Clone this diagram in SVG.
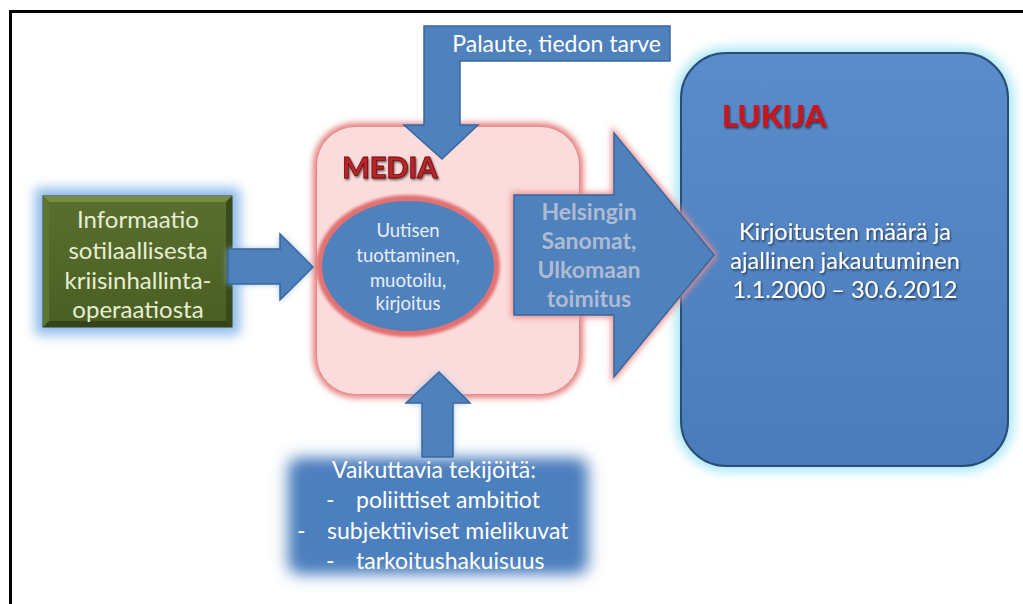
<svg xmlns="http://www.w3.org/2000/svg" width="1023" height="604" viewBox="0 0 1023 604">
<style>
.t{font-family:Lato,"Open Sans","Liberation Sans",sans-serif;text-anchor:middle}
.w{fill:#ffffff}
.arrow{fill:#4f81bd;stroke:#3a679c;stroke-width:1.5}
</style>
<defs>
<filter id="blur6" x="-30%" y="-30%" width="160%" height="160%"><feGaussianBlur stdDeviation="6"/></filter>
<filter id="blur3" x="-30%" y="-30%" width="160%" height="160%"><feGaussianBlur stdDeviation="3"/></filter>
<filter id="blur2" x="-30%" y="-30%" width="160%" height="160%"><feGaussianBlur stdDeviation="1.5"/></filter>
<filter id="soft" x="-20%" y="-30%" width="140%" height="160%"><feGaussianBlur stdDeviation="8"/></filter>
<filter id="shadow" x="-10%" y="-30%" width="120%" height="160%"><feDropShadow dx="1" dy="1.5" stdDeviation="1" flood-color="#000" flood-opacity="0.6"/></filter>
<linearGradient id="lukG" x1="0" y1="0" x2="0" y2="1"><stop offset="0" stop-color="#5a8ccb"/><stop offset="1" stop-color="#4a7cbc"/></linearGradient>
<linearGradient id="greenG" x1="0" y1="0" x2="0" y2="1"><stop offset="0" stop-color="#5a6f2e"/><stop offset="1" stop-color="#4a5e24"/></linearGradient>
</defs>

<!-- frame -->
<path d="M10.5 604 V11.5 H1023" fill="none" stroke="#000" stroke-width="3"/>

<!-- LUKIJA -->
<g id="lukija">
<rect x="676" y="48" width="337" height="423" rx="50" fill="#9fe4f4" filter="url(#blur6)"/>
<rect x="681" y="53" width="327" height="413" rx="45" fill="url(#lukG)" stroke="#2b4c77" stroke-width="2"/>
<text x="722" y="127" font-family="Lato,'Liberation Sans',sans-serif" font-weight="900" font-size="31" fill="#c8161d" filter="url(#shadow)">LUKIJA</text>
<g class="t w" font-size="23.5" filter="url(#shadow)">
<text x="845" y="240">Kirjoitusten määrä ja</text>
<text x="845" y="269">ajallinen jakautuminen</text>
<text x="845" y="298">1.1.2000 – 30.6.2012</text>
</g>
</g>

<!-- MEDIA -->
<g id="media">
<rect x="313" y="123" width="270" height="275" rx="42" fill="#e47a7a" filter="url(#blur3)"/>
<rect x="317" y="127" width="262" height="267" rx="38" fill="#fbdcdc"/>
<text x="390" y="178" font-family="Lato,'Liberation Sans',sans-serif" font-weight="900" font-size="29" text-anchor="middle" fill="#b8262a" stroke="#6e0c0e" stroke-width="0.8" filter="url(#shadow)">MEDIA</text>
</g>

<g id="uutisen">
<ellipse cx="408" cy="266" rx="92" ry="71" fill="#e27171" filter="url(#blur2)"/>
<ellipse cx="408" cy="266" rx="86" ry="65" fill="#4f81bd"/>
<g class="t" font-size="18.5" fill="#e8eef8">
<text x="408" y="237">Uutisen</text>
<text x="408" y="262">tuottaminen,</text>
<text x="408" y="287">muotoilu,</text>
<text x="408" y="310">kirjoitus</text>
</g>
</g>

<!-- Informaatio -->
<g id="informaatio">
<rect x="35" y="188" width="205" height="147" fill="#8fbbea" filter="url(#blur6)"/>
<rect x="43" y="196" width="189" height="131" fill="url(#greenG)" stroke="#2f3c16" stroke-width="1"/>
<path d="M43 196 H232 L226 202 H49 Z" fill="#768c45"/>
<path d="M232 196 V327 L226 321 V202 Z" fill="#3a4b1b"/>
<path d="M43 327 H232 L226 321 H49 Z" fill="#34431a"/>
<path d="M43 196 V327 L49 321 V202 Z" fill="#5f7533"/>
<g class="t" font-size="24" fill="#e6efd2">
<text x="138" y="228">Informaatio</text>
<text x="138" y="259">sotilaallisesta</text>
<text x="138" y="289">kriisinhallinta-</text>
<text x="138" y="318">operaatiosta</text>
</g>
</g>

<!-- Helsingin Sanomat arrow -->
<g id="hs">
<path d="M514 195 H614 V133 L714 255 L614 377 V315 H514 Z" fill="#ec8c8c" stroke="#ec8c8c" stroke-width="5" filter="url(#blur3)"/>
<path d="M514 195 H614 V133 L714 255 L614 377 V315 H514 Z" class="arrow"/>
<g class="t" font-size="23" font-weight="bold" fill="#aebbd2">
<text x="589" y="220">Helsingin</text>
<text x="589" y="249">Sanomat,</text>
<text x="589" y="278">Ulkomaan</text>
<text x="589" y="307">toimitus</text>
</g>
</g>

<!-- Palaute callout -->
<g id="palaute">
<path d="M424 26 H670 V61 H460 V125 H478 L442 159 L404 125 H424 Z" class="arrow"/>
<text x="661" y="52" font-family="Lato,'Open Sans','Liberation Sans',sans-serif" font-size="23" text-anchor="end" fill="#ffffff">Palaute, tiedon tarve</text>
</g>

<!-- Vaikuttavia tekijöitä -->
<g id="vaikuttavia">
<rect x="288" y="458" width="300" height="116" rx="10" fill="#4a7dbd" filter="url(#soft)"/>
<rect x="300" y="466" width="276" height="100" fill="#4f81bd" opacity="0.6" filter="url(#blur6)"/>
<g font-family="Lato,'Open Sans','Liberation Sans',sans-serif" font-size="23" fill="#ffffff">
<text x="434" y="478" text-anchor="middle">Vaikuttavia tekijöitä:</text>
<text x="326" y="508">-</text><text x="356" y="508">poliittiset ambitiot</text>
<text x="297" y="539">-</text><text x="327" y="539">subjektiiviset mielikuvat</text>
<text x="326" y="569">-</text><text x="356" y="569">tarkoitushakuisuus</text>
</g>
</g>

<!-- connectors -->
<g id="connectors">
<path d="M228 249 H280 V234 L313 267 L280 300 V284 H228 Z" fill="#8fbbea" filter="url(#blur3)"/>
<path d="M228 249 H280 V234 L313 267 L280 300 V284 H228 Z" class="arrow"/>
<path d="M422 457 V403 H406 L439 372 L470 403 H453 V457 Z" fill="#8fbbea" filter="url(#blur3)"/>
<path d="M422 457 V403 H406 L439 372 L470 403 H453 V457 Z" class="arrow"/>
</g>
</svg>
